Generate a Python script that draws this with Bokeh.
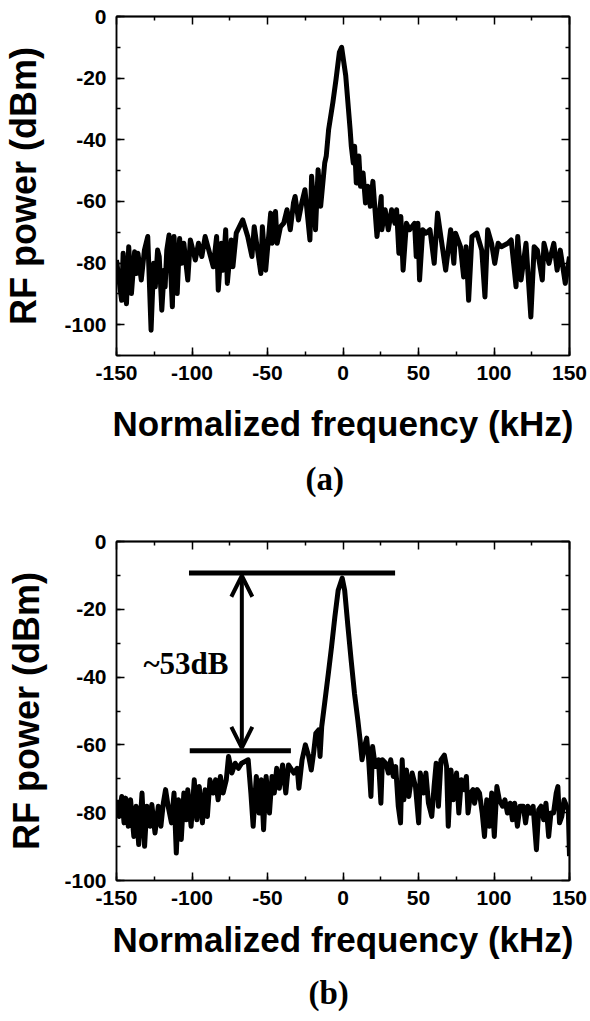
from bokeh.plotting import figure
from bokeh.models import (Range1d, LinearAxis, SingleIntervalTicker, FixedTicker, Label,
                          Arrow, OpenHead, Title)
from bokeh.layouts import column
from bokeh.embed import file_html
from bokeh.resources import INLINE

# ---------------- data ----------------
a_freq = [-150.0, -146.6, -145.6, -143.4, -141.9, -140.1, -138.0, -136.9, -135.8, -133.6,
          -131.5, -129.3, -127.1, -125.4, -124.3, -122.8, -121.7, -120.0, -118.4, -117.8,
          -116.7, -115.2, -113.0, -111.9, -109.8, -108.2, -106.9, -105.4, -102.8, -101.1,
          -97.8, -95.7, -93.5, -91.3, -85.9, -83.7, -82.6, -80.5, -79.4, -77.7,
          -76.6, -74.0, -72.9, -70.7, -66.4, -63.1, -60.3, -58.8, -54.4, -53.4,
          -51.2, -47.9, -46.9, -44.7, -43.6, -41.4, -39.3, -37.1, -34.9, -32.8,
          -31.7, -29.5, -27.3, -25.2, -21.9, -20.8, -18.2, -16.5, -14.8, -12.1,
          -11.1, -9.5, -6.7, -4.6, -2.4, -0.9,
          1.8, 4.7, 5.5, 6.8, 7.7, 8.8, 10.5, 11.6, 13.3, 14.9,
          16.4, 18.1, 19.8, 22.5, 25.3, 25.7, 27.9, 30.0, 32.2, 34.4,
          35.5, 37.0, 38.3, 39.8, 42.0, 44.1, 47.4, 48.5, 49.6, 50.7,
          52.8, 55.0, 57.6, 60.4, 62.6, 64.8, 68.0, 71.3, 73.4, 74.5,
          77.8, 79.9, 81.5, 83.2, 85.4, 88.6, 91.9, 94.0, 95.8, 98.4,
          100.5, 102.7, 104.9, 109.2, 111.4, 114.6, 115.7, 117.9, 121.2, 124.4,
          126.6, 128.7, 132.0, 133.1, 136.4, 139.6, 141.8, 143.9, 147.2, 150.0]
a_power = [-79.0, -92.1, -76.8, -93.2, -74.7, -89.9, -76.3, -83.4, -76.8, -85.5,
           -75.8, -71.4, -101.8, -80.1, -87.7, -75.8, -77.9, -95.3, -82.3, -87.7,
           -75.8, -70.9, -94.2, -71.4, -89.9, -72.0, -80.1, -73.6, -85.5, -72.5,
           -79.0, -73.6, -77.9, -71.4, -81.2, -71.4, -88.8, -73.6, -82.3, -69.2,
           -86.6, -72.5, -81.2, -70.3, -66.0, -71.4, -77.9, -68.2, -83.4, -68.2,
           -82.3, -63.8, -73.6, -63.3, -73.6, -68.2, -67.1, -62.7, -69.2, -60.5,
           -58.4, -66.0, -60.5, -56.2, -72.5, -51.8, -69.2, -49.7, -61.6, -47.5,
           -45.3, -36.6, -27.9, -20.3, -11.6, -10.0,
           -19.2, -36.6, -42.1, -47.5, -42.1, -54.0, -45.3, -55.1, -50.8, -60.5,
           -55.1, -61.6, -53.5, -71.4, -58.4, -69.2, -62.7, -69.2, -62.7, -67.1,
           -62.7, -76.8, -64.9, -82.3, -67.1, -69.2, -67.1, -77.9, -67.1, -85.5,
           -69.2, -70.3, -69.2, -80.1, -63.8, -71.4, -82.3, -69.2, -80.1, -70.3,
           -74.7, -84.5, -74.7, -92.1, -71.4, -70.3, -75.8, -91.0, -69.2, -73.6,
           -80.1, -73.6, -74.7, -73.6, -72.5, -87.7, -71.4, -85.5, -73.6, -97.5,
           -74.7, -75.8, -85.5, -73.6, -80.1, -73.6, -82.3, -75.8, -86.6, -77.9]

b_freq = [-150.0, -148.3, -146.5, -145.0, -143.9, -142.2, -140.7, -138.5, -137.0, -135.3,
          -133.1, -131.4, -129.9, -127.7, -126.6, -124.5, -122.3, -120.6, -119.0, -117.5,
          -115.8, -113.6, -111.9, -110.4, -108.9, -107.1, -105.4, -103.9, -102.8, -100.6,
          -98.5, -96.8, -95.2, -93.1, -91.3, -89.8, -88.1, -85.9, -84.4, -82.7,
          -81.2, -79.4, -77.3, -75.8, -73.6, -71.4, -69.3, -67.1, -64.9, -62.8,
          -61.0, -59.5, -57.4, -55.6, -54.1, -52.6, -50.9, -48.7, -47.0, -45.5,
          -43.9, -42.2, -40.0, -37.9, -36.1, -34.6, -32.5, -30.3, -29.2, -27.1,
          -24.9, -22.7, -21.0, -19.5, -18.0, -16.2, -15.2, -14.1, -11.9, -9.7,
          -7.6, -5.4, -3.2, -0.5,
          1.1, 3.3, 5.4, 7.6, 9.8, 11.3, 12.6, 14.2, 15.7, 17.0,
          18.5, 19.6, 21.4, 23.5, 25.1, 26.1, 28.3, 30.1, 31.6, 33.3,
          34.9, 36.6, 38.1, 39.2, 40.3, 42.0, 43.6, 45.8, 48.0, 50.1,
          51.2, 53.4, 54.9, 56.6, 58.8, 60.3, 61.7, 63.2, 64.9, 67.1,
          68.6, 69.7, 71.5, 73.0, 75.2, 76.7, 78.4, 80.2, 81.7, 82.8,
          84.5, 86.1, 87.1, 88.9, 90.4, 92.2, 93.7, 95.2, 96.9, 98.5,
          100.2, 101.9, 103.5, 105.7, 107.2, 108.9, 110.7, 112.2, 113.7, 115.5,
          117.2, 119.4, 120.9, 122.4, 124.2, 125.9, 128.1, 129.6, 131.2, 132.9,
          134.4, 136.2, 137.7, 139.4, 141.2, 142.3, 143.4, 144.9, 146.4, 148.1,
          149.2, 150.0]
b_power = [-76.2, -81.1, -75.2, -83.0, -75.7, -84.0, -76.2, -87.0, -78.1, -89.4,
           -74.2, -89.9, -78.1, -84.0, -77.6, -86.0, -78.1, -84.0, -77.2, -73.2,
           -78.1, -83.0, -74.2, -91.9, -76.2, -87.9, -74.2, -82.1, -73.2, -84.0,
           -70.3, -82.1, -72.3, -83.0, -73.2, -81.1, -70.3, -74.2, -70.3, -76.2,
           -69.3, -74.2, -70.3, -63.4, -68.3, -65.4, -66.9, -65.4, -64.9, -64.4,
           -74.2, -84.0, -69.3, -80.1, -70.3, -85.0, -69.3, -80.1, -69.3, -74.2,
           -66.9, -72.8, -65.9, -74.2, -65.9, -66.9, -68.3, -66.9, -72.8, -64.4,
           -60.0, -63.4, -67.4, -62.5, -56.6, -55.6, -63.4, -54.6, -46.8, -38.9,
           -31.1, -22.3, -14.4, -10.8,
           -14.4, -25.2, -35.0, -44.8, -52.6, -58.5, -64.4, -60.5, -58.0, -64.4,
           -75.2, -60.5, -66.4, -64.4, -77.2, -64.4, -65.4, -68.3, -64.4, -69.3,
           -66.4, -78.1, -83.0, -64.4, -76.2, -67.4, -75.2, -68.3, -72.3, -83.0,
           -68.3, -74.2, -68.3, -77.2, -81.1, -72.3, -65.4, -78.1, -64.4, -63.0,
           -66.4, -84.0, -67.4, -76.2, -68.3, -80.1, -70.3, -73.2, -69.3, -80.1,
           -74.2, -73.2, -77.2, -73.2, -74.2, -80.1, -87.0, -76.2, -84.0, -74.2,
           -87.0, -72.3, -76.2, -78.1, -76.2, -80.1, -77.2, -82.1, -77.2, -84.0,
           -78.1, -78.1, -83.0, -78.1, -80.1, -78.1, -90.9, -79.1, -78.1, -82.1,
           -77.2, -87.0, -80.1, -80.1, -74.2, -72.3, -83.0, -81.1, -76.2, -78.1,
           -79.1, -92.8]

x_tick_values = [-150, -100, -50, 0, 50, 100, 150]
x_tick_labels = ["-150", "-100", "-50", "0", "50", "100", "150"]
x_minor_values = [-125, -75, -25, 25, 75, 125]
y_tick_values = [0, -20, -40, -60, -80, -100]
y_tick_labels = ["0", "-20", "-40", "-60", "-80", "-100"]
y_minor_values = [-10, -30, -50, -70, -90]

# annotation of panel (b): levels (dBm) and extents (kHz)
peak_level = -9.3
floor_level = -61.7
peak_bar = [-102.0, 34.5]
floor_bar = [-101.5, -34.5]
arrow_freq = -67.0
note_text = "~53dB"

X_LABEL = "Normalized frequency (kHz)"
Y_LABEL = "RF power (dBm)"

SANS = "Liberation Sans"
SERIF = "Liberation Serif"


def base_axis_style(ax):
    ax.axis_line_color = "black"
    ax.axis_line_width = 1.5
    ax.major_tick_line_color = "black"
    ax.major_tick_line_width = 1.5
    ax.minor_tick_line_color = "black"
    ax.minor_tick_line_width = 1.5
    ax.major_tick_out = 0
    ax.minor_tick_out = 0


def style_main_axis(ax, interval, values, labels):
    ax.ticker = SingleIntervalTicker(interval=interval, num_minor_ticks=2)
    base_axis_style(ax)
    ax.major_tick_in = 8
    ax.minor_tick_in = 4
    ax.major_label_overrides = {v: l for v, l in zip(values, labels)}
    ax.major_label_text_font = SANS
    ax.major_label_text_font_style = "bold"
    ax.major_label_text_font_size = "21px"
    ax.major_label_text_color = "black"
    ax.major_label_standoff = 10


def mirror_axis(positions, length):
    # tick marks only (no labels): positions given as "minor" ticks of a fixed ticker
    ax = LinearAxis(ticker=FixedTicker(ticks=[], minor_ticks=positions))
    base_axis_style(ax)
    ax.major_tick_in = 0
    ax.minor_tick_in = length
    ax.major_label_standoff = 0
    ax.axis_label_standoff = 0
    return ax


def make_panel(freq, power, y_start, height, b_top, b_bottom, b_left, b_right,
               ylab_standoff, xlab_standoff, caption, cap_offset, cap_standoff):
    p = figure(width=590, height=height, output_backend="svg", toolbar_location=None,
               x_range=Range1d(-150, 150), y_range=Range1d(y_start, 0),
               min_border_top=b_top, min_border_bottom=b_bottom,
               min_border_left=b_left, min_border_right=b_right,
               background_fill_color="white", border_fill_color="white")
    p.xgrid.visible = False
    p.ygrid.visible = False
    p.outline_line_color = "black"
    p.outline_line_width = 1.5

    p.line(freq, power, line_color="black", line_width=5, line_join="round")

    xax = p.below[0]
    yax = p.left[0]
    style_main_axis(xax, 50, x_tick_values, x_tick_labels)
    style_main_axis(yax, 20, y_tick_values, y_tick_labels)

    p.add_layout(mirror_axis(x_tick_values, 8), "above")
    p.add_layout(mirror_axis(x_minor_values, 4), "above")
    p.add_layout(mirror_axis(y_tick_values, 8), "right")
    p.add_layout(mirror_axis(y_minor_values, 4), "right")

    xax.axis_label = X_LABEL
    xax.axis_label_text_font = SANS
    xax.axis_label_text_font_style = "bold"
    xax.axis_label_text_font_size = "35px"
    xax.axis_label_text_color = "black"
    xax.axis_label_standoff = xlab_standoff

    yax.axis_label = Y_LABEL
    yax.axis_label_text_font = SANS
    yax.axis_label_text_font_style = "bold"
    yax.axis_label_text_font_size = "36px"
    yax.axis_label_text_color = "black"
    yax.axis_label_standoff = ylab_standoff

    cap = Title(text=caption, align="left", offset=cap_offset, text_font=SERIF,
                text_font_style="bold", text_font_size="33px", text_color="black")
    try:
        cap.standoff = cap_standoff
    except Exception:
        pass
    p.add_layout(cap, "below")
    return p


# panel (a): frame at x 110..571, y 16..355 of the page
pa = make_panel(a_freq, a_power, -110, 510, 16, 155, 110, 19, 17, 21, "(a)", 189, 26)
# panel (b): frame at x 107..569, y 541..882 of the page
pb = make_panel(b_freq, b_power, -100, 511, 31, 139, 107, 21, 14, 12, "(b)", 192, 22)

# annotation of panel (b)
pb.line(peak_bar, [peak_level, peak_level], line_color="black", line_width=5)
pb.line(floor_bar, [floor_level, floor_level], line_color="black", line_width=5)
pb.add_layout(Arrow(x_start=arrow_freq, y_start=floor_level + 0.8,
                    x_end=arrow_freq, y_end=peak_level - 0.8,
                    line_color="black", line_width=4,
                    start=OpenHead(size=21, line_width=4, line_color="black"),
                    end=OpenHead(size=21, line_width=4, line_color="black")))
pb.add_layout(Label(x=-104, y=-36, text=note_text, text_align="center",
                    text_baseline="middle", text_font=SERIF, text_font_style="bold",
                    text_font_size="31px", text_color="black"))

layout = column(pa, pb, spacing=0)
open("out.html", "w").write(file_html(layout, INLINE))
